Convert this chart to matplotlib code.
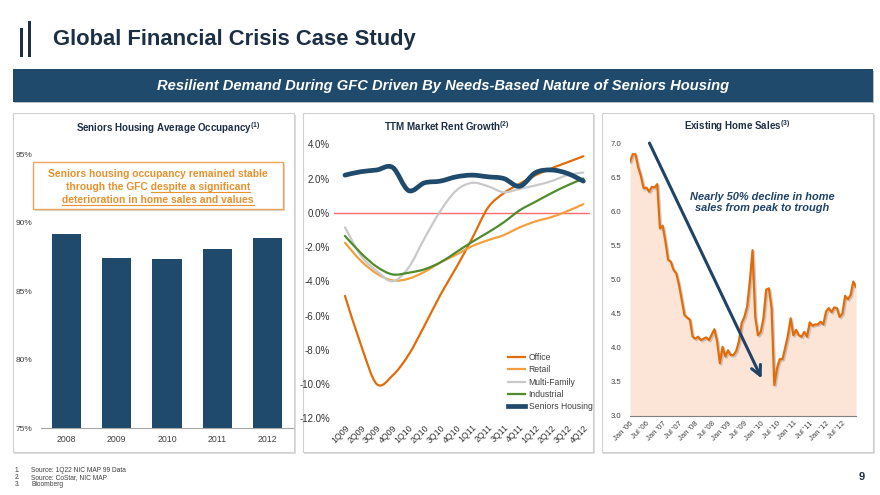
import numpy as np
import matplotlib
matplotlib.use('Agg')
import matplotlib.pyplot as plt
from matplotlib.patches import Rectangle, PathPatch
from matplotlib.path import Path
from matplotlib.lines import Line2D
import matplotlib.patheffects as pe

plt.rcParams['font.family'] = ['Liberation Sans', 'DejaVu Sans']
plt.rcParams['mathtext.fontset'] = 'custom'
plt.rcParams['mathtext.rm'] = 'Liberation Sans'
plt.rcParams['mathtext.bf'] = 'Liberation Sans:bold'

# --- data ---
years = ['2008', '2009', '2010', '2011', '2012']
occupancy = [89.15, 87.45, 87.35, 88.1, 88.9]

quarters = ['1Q09', '2Q09', '3Q09', '4Q09', '1Q10', '2Q10', '3Q10', '4Q10',
            '1Q11', '2Q11', '3Q11', '4Q11', '1Q12', '2Q12', '3Q12', '4Q12']
office = [-4.85, -7.7, -10.0, -9.5, -8.3, -6.6, -4.8, -3.2, -1.5, 0.3, 1.15, 1.7, 2.2, 2.6, 2.95, 3.3]
retail = [-1.75, -2.8, -3.55, -3.95, -3.85, -3.45, -2.9, -2.45, -1.95, -1.6, -1.3, -0.85, -0.5, -0.25, 0.1, 0.5]
multi_family = [-0.85, -2.5, -3.4, -4.0, -3.2, -1.5, 0.1, 1.3, 1.75, 1.55, 1.2, 1.4, 1.6, 1.85, 2.2, 2.35]
industrial = [-1.35, -2.35, -3.15, -3.6, -3.5, -3.3, -2.9, -2.3, -1.7, -1.15, -0.55, 0.15, 0.65, 1.15, 1.6, 2.0]
seniors = [2.2, 2.4, 2.5, 2.65, 1.3, 1.75, 1.85, 2.1, 2.2, 2.1, 2.0, 1.55, 2.35, 2.5, 2.3, 1.85]

# existing home sales, monthly Jan '06 - Dec '12 (mm, SAAR)
home_sales = [6.73, 6.84, 6.84, 6.65, 6.52, 6.34, 6.35, 6.29, 6.36, 6.35, 6.40, 5.75,
              5.79, 5.56, 5.29, 5.26, 5.14, 5.09, 4.92, 4.70, 4.48, 4.44, 4.41, 4.16,
              4.13, 4.16, 4.11, 4.13, 4.15, 4.11, 4.19, 4.27, 4.09, 3.77, 4.01, 3.87,
              3.96, 3.89, 3.89, 3.95, 4.09, 4.36, 4.45, 4.60, 4.97, 5.43, 4.45, 4.18,
              4.23, 4.43, 4.85, 4.87, 4.58, 3.45, 3.70, 3.83, 3.83, 4.00, 4.18, 4.43,
              4.18, 4.26, 4.18, 4.16, 4.23, 4.16, 4.37, 4.32, 4.34, 4.34, 4.38, 4.34,
              4.53, 4.58, 4.52, 4.59, 4.58, 4.45, 4.50, 4.76, 4.71, 4.77, 4.97, 4.89]
month_labels = ["Jan '06", "Jul '06", "Jan '07", "Jul '07", "Jan '08", "Jul '08", "Jan '09",
                "Jul '09", "Jan '10", "Jul '10", "Jan '11", "Jul '11", "Jan '12", "Jul '12"]

footnotes = ['Source: 1Q22 NIC MAP 99 Data', 'Source: CoStar, NIC MAP', 'Bloomberg']

NAVY = '#1F4A6B'
DARK = '#1C2F45'
TICK = '#404040'
ORANGE_TXT = '#E8912D'

W, H = 880, 495
fig = plt.figure(figsize=(8.8, 4.95), dpi=100)


def px_axes(x0, y0, x1, y1, z=1):
    return fig.add_axes([x0 / W, 1 - y1 / H, (x1 - x0) / W, (y1 - y0) / H], zorder=z)


def smooth_path(xs, ys):
    # excel style smoothed line (catmull-rom as bezier)
    pts = np.column_stack([xs, ys]).astype(float)
    n = len(pts)
    verts = [pts[0]]
    codes = [Path.MOVETO]
    for i in range(n - 1):
        p0 = pts[max(i - 1, 0)]
        p1 = pts[i]
        p2 = pts[i + 1]
        p3 = pts[min(i + 2, n - 1)]
        verts += [p1 + (p2 - p0) / 6, p2 - (p3 - p1) / 6, p2]
        codes += [Path.CURVE4] * 3
    return Path(verts, codes)


bg = px_axes(0, 0, W, H, z=0)
bg.set_xlim(0, W)
bg.set_ylim(H, 0)
bg.axis('off')

fg = px_axes(0, 0, W, H, z=10)
fg.set_xlim(0, W)
fg.set_ylim(H, 0)
fg.axis('off')

# header
bg.add_patch(Rectangle((19.5, 28.3), 3, 28.4, color=DARK, lw=0))
bg.add_patch(Rectangle((27.5, 21), 3.5, 35.7, color=DARK, lw=0))
bg.text(53, 40, 'Global Financial Crisis Case Study', fontsize=15.8, weight='bold',
        color=DARK, va='center', ha='left')
bg.add_patch(Rectangle((14, 71), 860.3, 32.4, color='#BFBFBF', lw=0))
bg.add_patch(Rectangle((12.7, 69.3), 860.3, 32.4, color=NAVY, lw=0))
bg.text(443, 86, 'Resilient Demand During GFC Driven By Needs-Based Nature of Seniors Housing',
        fontsize=10.6, weight='bold', style='italic', color='white', ha='center', va='center')

for x0, y0, x1, y1 in [(12.7, 113.3, 294, 452), (302.7, 113.3, 593.3, 452), (601.7, 113.3, 873, 452)]:
    bg.add_patch(Rectangle((x0 + 1.5, y0 + 1.5), x1 - x0, y1 - y0, color='#DDDDDD', lw=0))
    bg.add_patch(Rectangle((x0, y0), x1 - x0, y1 - y0, fc='white', ec='#D0D0D0', lw=0.8))

# footnotes
for i, note in enumerate(footnotes):
    yy = 470 + i * 7.5
    bg.text(15, yy, f'{i + 1}.', fontsize=4.8, color=TICK, va='center')
    bg.text(31, yy, note, fontsize=4.8, color=TICK, va='center')
bg.text(862, 477, '9', fontsize=8, weight='bold', color=DARK, va='center', ha='center')

# --- chart 1: occupancy bars ---
ax1 = px_axes(41, 154.3, 293, 428.3)
ax1.set_facecolor('none')
ax1.bar(range(len(years)), occupancy, width=0.58, color=NAVY)
ax1.set_xlim(-0.5, 4.5)
ax1.set_ylim(75, 95)
ax1.set_yticks([75, 80, 85, 90, 95])
ax1.set_yticklabels([f'{v}%' for v in [75, 80, 85, 90, 95]])
ax1.set_xticks(range(len(years)))
ax1.set_xticklabels(years)
for s in ['top', 'right', 'left']:
    ax1.spines[s].set_visible(False)
ax1.spines['bottom'].set_color('#A6A6A6')
ax1.spines['bottom'].set_linewidth(0.8)
ax1.tick_params(axis='y', length=0, pad=6, labelsize=6, labelcolor=TICK)
ax1.tick_params(axis='x', length=0, pad=4.8, labelsize=6.3, labelcolor=TICK)
fg.text(168, 128, r'Seniors Housing Average Occupancy$^{\mathbf{(1)}}$', fontsize=7,
        weight='bold', color=DARK, ha='center', va='center')

# callout box
fg.add_patch(Rectangle((34.5, 163.5), 250, 47, color='#D9D9D9', lw=0))
fg.add_patch(Rectangle((33, 162), 250, 47, fc='white', ec='#EBA55A', lw=1))
box_lines = ['Seniors housing occupancy remained stable',
             'through the GFC despite a significant',
             'deterioration in home sales and values']
txt_kw = dict(fontsize=7.4, weight='bold', color=ORANGE_TXT, ha='center', va='baseline')
line_objs = []
for i, ln in enumerate(box_lines):
    line_objs.append(fg.text(158, 176.8 + i * 13.3, ln, **txt_kw))
renderer = fig.canvas.get_renderer()
inv = fg.transData.inverted()
tmp = fg.text(0, 0, 'despite a significant', **txt_kw)
ext_tmp = tmp.get_window_extent(renderer)
tmp.remove()
for i in (1, 2):
    ext = line_objs[i].get_window_extent(renderer)
    xl = ext.x1 - ext_tmp.width if i == 1 else ext.x0
    (ax_, _), (bx_, _) = inv.transform([(xl, 0), (ext.x1, 0)])
    yb = 176.8 + i * 13.3 + 1.6
    fg.plot([ax_, bx_], [yb, yb], color=ORANGE_TXT, lw=0.8)

# --- chart 2: rent growth ---
ax2 = px_axes(334, 144.3, 590, 418.3)
ax2.set_facecolor('none')
ax2.set_xlim(-0.69, 15.42)
ax2.set_ylim(-12, 4)
ax2.axhline(0, color='#FF6B6B', lw=1, zorder=1)
qx = np.arange(len(quarters))
series = [('Office', office, '#E36C0A', 1.6),
          ('Retail', retail, '#F2A03D', 1.6),
          ('Multi-Family', multi_family, '#C9C9C9', 1.6),
          ('Industrial', industrial, '#4F8B2D', 1.6),
          ('Seniors Housing', seniors, NAVY, 3.4)]
handles = []
for name, vals, col, lw in series:
    ax2.add_patch(PathPatch(smooth_path(qx, vals), fill=False, ec=col, lw=lw,
                            capstyle='round', joinstyle='round', zorder=2))
    handles.append(Line2D([], [], color=col, lw=lw))
ax2.set_yticks(np.arange(-12, 5, 2))
ax2.set_yticklabels([f'{v:.1f}%' for v in np.arange(-12, 5, 2)])
ax2.set_xticks(qx)
ax2.set_xticklabels(quarters, rotation=45, ha='right', va='top', rotation_mode='anchor')
for s in ax2.spines.values():
    s.set_visible(False)
ax2.tick_params(axis='y', length=0, pad=3, labelsize=7, labelcolor='#333333')
ax2.tick_params(axis='x', length=0, pad=3.4, labelsize=6.3, labelcolor='#333333')
ax2.legend(handles, [s[0] for s in series], loc='upper left',
           bbox_to_anchor=(508 / W, 1 - 353 / H), bbox_transform=fig.transFigure,
           frameon=False, fontsize=6.2, handlelength=2.0, handletextpad=0.4,
           labelspacing=0.38, borderpad=0, borderaxespad=0, labelcolor=TICK)
fg.text(447, 126, r'TTM Market Rent Growth$^{\mathbf{(2)}}$', fontsize=7,
        weight='bold', color=DARK, ha='center', va='center')

# --- chart 3: existing home sales ---
ARROW_START = (6.7, 7.04)
ARROW_END = (48.8, 3.51)
ax3 = px_axes(630, 143.3, 856, 415.7)
ax3.set_facecolor('none')
months = np.arange(len(home_sales))
ax3.fill_between(months, home_sales, 3.0, color='#FCE4D6', lw=0)
ax3.plot(months, home_sales, color='#E36C0A', lw=1.6,
         path_effects=[pe.SimpleLineShadow(offset=(1, -1), shadow_color='#888888', alpha=0.4),
                       pe.Normal()])
ax3.annotate('', xy=ARROW_END, xytext=ARROW_START, annotation_clip=False,
             arrowprops=dict(arrowstyle='->,head_length=0.7,head_width=0.35',
                             color='#1F4366', lw=2.2))
ax3.set_xlim(0, 83)
ax3.set_ylim(3, 7)
ax3.set_yticks(np.arange(3, 7.01, 0.5))
ax3.set_yticklabels([f'{v:.1f}' for v in np.arange(3, 7.01, 0.5)])
ax3.set_xticks(np.arange(0, 84, 6))
ax3.set_xticklabels(month_labels, rotation=45, ha='right', va='top', rotation_mode='anchor')
for s in ['top', 'right', 'left']:
    ax3.spines[s].set_visible(False)
ax3.spines['bottom'].set_color('#7F7F7F')
ax3.spines['bottom'].set_linewidth(0.8)
ax3.tick_params(axis='y', length=0, pad=6, labelsize=5.6, labelcolor=TICK)
ax3.tick_params(axis='x', length=0, pad=3, labelsize=5.6, labelcolor=TICK)
fg.text(737, 126, r'Existing Home Sales$^{\mathbf{(3)}}$', fontsize=7,
        weight='bold', color=DARK, ha='center', va='center')
fg.text(762, 202.5, 'Nearly 50% decline in home\nsales from peak to trough', fontsize=7.9,
        weight='bold', style='italic', color='#1F4366', ha='center', va='center',
        linespacing=1.2)

fig.savefig('out.png', dpi=100)
